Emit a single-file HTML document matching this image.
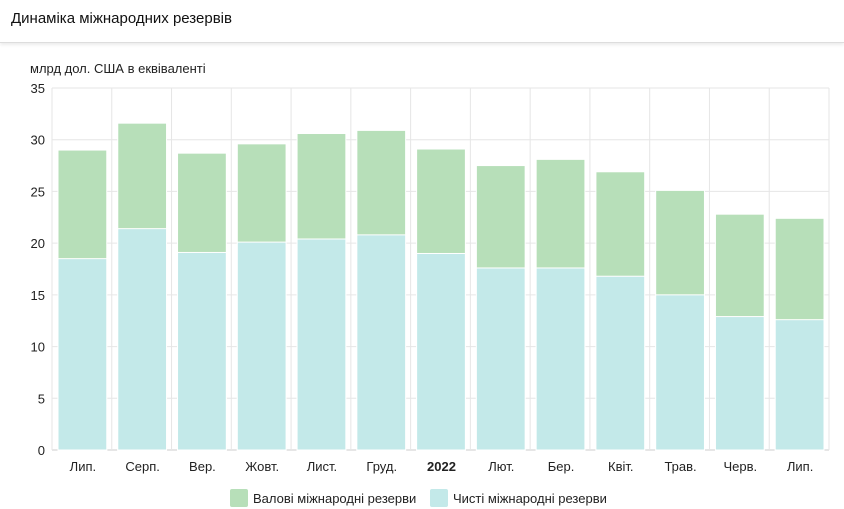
<!DOCTYPE html>
<html><head><meta charset="utf-8"><style>
body{margin:0;width:844px;height:509px;background:#fff;font-family:"Liberation Sans",sans-serif;overflow:hidden;position:relative}
#hdr{position:absolute;left:0;top:0;width:844px;height:42px;border-bottom:1px solid #ddd;box-shadow:0 2px 3px rgba(0,0,0,0.08)}
#hdr span{position:absolute;left:11px;top:10px;font-size:15px;color:#111}
</style></head><body>
<div id="hdr"><span>Динаміка міжнародних резервів</span></div>
<svg id="chart" width="844" height="509" style="position:absolute;left:0;top:0"></svg>
<script>
const categories=["Лип.","Серп.","Вер.","Жовт.","Лист.","Груд.","2022","Лют.","Бер.","Квіт.","Трав.","Черв.","Лип."];
const grossValues=[29.0,31.6,28.7,29.6,30.6,30.9,29.1,27.5,28.1,26.9,25.1,22.8,22.4];
const netValues=[18.5,21.4,19.1,20.1,20.4,20.8,19.0,17.6,17.6,16.8,15.0,12.9,12.6];
const yTicks=[0,5,10,15,20,25,30,35];
const NS="http://www.w3.org/2000/svg";
const svg=document.getElementById('chart');
const L=52,R=829,T=88,B=450,maxY=35;
const y=v=>B-(v/maxY)*(B-T);
const bw=(R-L)/categories.length;
const x=i=>L+i*bw;
function mk(t,a){const e=document.createElementNS(NS,t);for(const k in a)e.setAttribute(k,a[k]);svg.appendChild(e);return e;}
yTicks.forEach(v=>{
 const g=mk('line',{x1:L,x2:R,y1:y(v),y2:y(v),stroke:v==0?'#ccc':'#e6e6e6','stroke-width':1});
 
 
 const t=mk('text',{x:45,y:y(v)+5,'text-anchor':'end','font-size':13,fill:'#222'});
 t.textContent=v;
 
 
});
for(let i=0;i<=categories.length;i++){
 const g=mk('line',{x1:x(i),x2:x(i),y1:T,y2:B,stroke:'#e6e6e6','stroke-width':1});
 
 
}
categories.forEach((c,i)=>{
 const bx=x(i)+6,w=bw-11;
 const g=mk('rect',{x:bx,y:y(grossValues[i]),width:w,height:B-y(grossValues[i]),fill:'#b7dfb9',stroke:'#fff','stroke-width':1});
 
 
 const n=mk('rect',{x:bx,y:y(netValues[i]),width:w,height:B-y(netValues[i]),fill:'#c3e9e9',stroke:'#fff','stroke-width':1});
 
 
 const t=mk('text',{x:x(i)+bw/2+1,y:471,'text-anchor':'middle','font-size':13,fill:'#222','font-weight':c=='2022'?'bold':'normal'});
 t.textContent=c;
 
 
});
const u=mk('text',{x:30,y:73,'font-size':13,fill:'#222'});
u.textContent='млрд дол. США в еквіваленті';


[[230,'#b7dfb9','Валові міжнародні резерви'],[430,'#c3e9e9','Чисті міжнародні резерви']].forEach(([lx,c,txt])=>{
 const r=mk('rect',{x:lx,y:489,width:18,height:18,rx:2,fill:c});
 
 
 const t=mk('text',{x:lx+23,y:503,'font-size':13,fill:'#222'});
 t.textContent=txt;
 
 
});
</script>
</body></html>
